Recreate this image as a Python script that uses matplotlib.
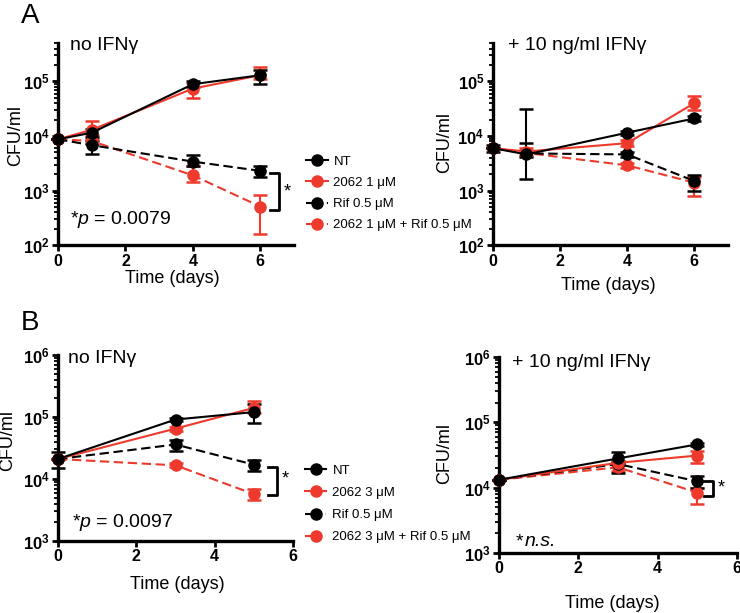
import matplotlib
matplotlib.use("Agg")
import matplotlib.pyplot as plt
from matplotlib.ticker import LogLocator, FixedLocator, NullFormatter
from matplotlib.lines import Line2D
import numpy as np

plt.rcParams['font.family'] = ['Liberation Sans', 'DejaVu Sans']
plt.rcParams['mathtext.fontset'] = 'custom'
plt.rcParams['mathtext.rm'] = 'Liberation Sans'
plt.rcParams['mathtext.it'] = 'Liberation Sans:italic'
plt.rcParams['mathtext.bf'] = 'Liberation Sans:bold'

RED = '#EE3A2C'
BLK = 'black'

# ---- data (CFU/ml): mean, lower, upper ----
# Panel A, no IFNg
days_a = [0, 1, 4, 6]
a1_nt = [8.7e3, 1.15e4, 8.9e4, 1.3e5]
a1_nt_lo = [8.7e3, 9.5e3, 8.0e4, 8.9e4]
a1_nt_hi = [8.7e3, 1.35e4, 1.0e5, 1.6e5]
a1_dr = [8.7e3, 1.3e4, 7.4e4, 1.3e5]
a1_dr_lo = [8.7e3, 1.05e4, 5.0e4, 1.1e5]
a1_dr_hi = [8.7e3, 1.9e4, 9.5e4, 1.8e5]
a1_rif = [8.7e3, 6.8e3, 3.4e3, 2.3e3]
a1_rif_lo = [8.7e3, 4.6e3, 2.8e3, 1.8e3]
a1_rif_hi = [8.7e3, 8.0e3, 4.4e3, 2.8e3]
a1_comb = [8.7e3, 8.1e3, 1.9e3, 5.1e2]
a1_comb_lo = [8.7e3, 7.0e3, 1.46e3, 1.6e2]
a1_comb_hi = [8.7e3, 9.0e3, 2.8e3, 8.3e2]

# Panel A, + 10 ng/ml IFNg
a2_nt = [6.0e3, 4.6e3, 1.15e4, 2.1e4]
a2_nt_lo = [6.0e3, 1.6e3, 1.05e4, 1.9e4]
a2_nt_hi = [6.0e3, 3.1e4, 1.25e4, 2.3e4]
a2_dr = [6.0e3, 5.2e3, 7.4e3, 4.0e4]
a2_dr_lo = [6.0e3, 4.5e3, 6.5e3, 3.0e4]
a2_dr_hi = [6.0e3, 6.0e3, 8.5e3, 5.4e4]
a2_rif = [6.0e3, 4.8e3, 4.6e3, 1.5e3]
a2_rif_lo = [5.2e3, 4.2e3, 4.2e3, 9.8e2]
a2_rif_hi = [6.8e3, 7.4e3, 5.0e3, 1.9e3]
a2_comb = [6.0e3, 4.9e3, 2.9e3, 1.4e3]
a2_comb_lo = [6.0e3, 4.3e3, 2.6e3, 8.0e2]
a2_comb_hi = [6.0e3, 5.4e3, 3.2e3, 1.8e3]

# Panel B, no IFNg
days_b = [0, 3, 5]
b1_nt = [2.1e4, 9.1e4, 1.2e5]
b1_nt_lo = [1.5e4, 8.5e4, 8.0e4]
b1_nt_hi = [2.7e4, 9.8e4, 1.6e5]
b1_dr = [2.1e4, 6.5e4, 1.4e5]
b1_dr_lo = [2.1e4, 6.0e4, 1.15e5]
b1_dr_hi = [2.1e4, 7.0e4, 1.8e5]
b1_rif = [2.1e4, 3.6e4, 1.7e4]
b1_rif_lo = [2.1e4, 2.8e4, 1.36e4]
b1_rif_hi = [2.1e4, 4.2e4, 2.0e4]
b1_comb = [2.1e4, 1.66e4, 5.7e3]
b1_comb_lo = [2.1e4, 1.55e4, 4.6e3]
b1_comb_hi = [2.1e4, 1.8e4, 6.9e3]

# Panel B, + 10 ng/ml IFNg
b2_nt = [1.32e4, 2.8e4, 4.6e4]
b2_nt_lo = [1.32e4, 2.4e4, 4.3e4]
b2_nt_hi = [1.32e4, 3.5e4, 4.9e4]
b2_dr = [1.32e4, 2.4e4, 3.1e4]
b2_dr_lo = [1.32e4, 2.2e4, 2.4e4]
b2_dr_hi = [1.32e4, 2.6e4, 3.7e4]
b2_rif = [1.32e4, 2.3e4, 1.25e4]
b2_rif_lo = [1.32e4, 1.7e4, 1.0e4]
b2_rif_hi = [1.32e4, 2.6e4, 1.5e4]
b2_comb = [1.32e4, 2.05e4, 8.4e3]
b2_comb_lo = [1.32e4, 1.8e4, 5.7e3]
b2_comb_hi = [1.32e4, 2.3e4, 1.0e4]

labels_a = ['NT', '2062 1 \u03bcM', 'Rif 0.5 \u03bcM', '2062 1 \u03bcM + Rif 0.5 \u03bcM']
labels_b = ['NT', '2062 3 \u03bcM', 'Rif 0.5 \u03bcM', '2062 3 \u03bcM + Rif 0.5 \u03bcM']
legend_styles = [(BLK, '-'), (RED, '-'), (BLK, '--'), (RED, '--')]


def series(ax, x, y, lo, hi, color, ls):
    y = np.array(y); lo = np.array(lo); hi = np.array(hi)
    err = [y - lo, hi - y]
    h = ax.errorbar(x, y, yerr=err, color=color, ls=ls, lw=1.5, marker='o',
                    ms=8, capsize=5, capthick=1.8, elinewidth=1.5,
                    dashes=(4.5, 2.2) if ls == '--' else (None, None),
                    clip_on=False, zorder=3)
    if ls == '--':
        h[2][0].set_linestyle('-')
    return h


def style(ax, xmax, xticks, ylo, yhi, decades):
    ax.set_yscale('log')
    ax.set_xlim(0, xmax)
    ax.set_ylim(ylo, yhi)
    for s in ['top', 'right']:
        ax.spines[s].set_visible(False)
    for s in ['left', 'bottom']:
        ax.spines[s].set_linewidth(2.4)
    ax.xaxis.set_major_locator(FixedLocator(xticks))
    ax.set_xticklabels([str(t) for t in xticks], fontweight='bold', fontsize=11.5)
    ax.yaxis.set_major_locator(FixedLocator([10.0 ** d for d in decades]))
    ax.set_yticklabels([r'$\mathbf{10^{%d}}$' % d for d in decades], fontsize=12)
    ax.yaxis.set_minor_locator(LogLocator(base=10, subs=np.arange(2, 10), numticks=20))
    ax.yaxis.set_minor_formatter(NullFormatter())
    ax.tick_params(axis='both', which='major', length=4.5, width=2.0, pad=1.5)
    ax.tick_params(axis='y', which='minor', length=3, width=1.3)


def bracket(ax, x0, x1, ya, yb, xs, ys):
    ax.plot([x0, x1, x1, x0], [ya, ya, yb, yb], color='black', lw=2, clip_on=False)
    ax.text(xs, ys, '*', fontsize=13, ha='left', va='center')


fig = plt.figure(figsize=(7.4, 6.13), dpi=100)
ax1 = fig.add_axes([0.0784, 0.600, 0.319, 0.3295])
ax2 = fig.add_axes([0.666, 0.600, 0.3176, 0.3295])
ax3 = fig.add_axes([0.0784, 0.1175, 0.3176, 0.3034])
ax4 = fig.add_axes([0.6743, 0.0979, 0.3216, 0.3197])

# Panel A left
series(ax1, days_a, a1_comb, a1_comb_lo, a1_comb_hi, RED, '--')
series(ax1, days_a, a1_rif, a1_rif_lo, a1_rif_hi, BLK, '--')
series(ax1, days_a, a1_dr, a1_dr_lo, a1_dr_hi, RED, '-')
series(ax1, days_a, a1_nt, a1_nt_lo, a1_nt_hi, BLK, '-')
style(ax1, 7, [0, 2, 4, 6], 1e2, 10 ** 5.7, [2, 3, 4, 5])
bracket(ax1, 6.3, 6.56, 2.1e3, 4.4e2, 6.7, 10 ** 2.98)

# Panel A right
series(ax2, days_a, a2_comb, a2_comb_lo, a2_comb_hi, RED, '--')
series(ax2, days_a, a2_rif, a2_rif_lo, a2_rif_hi, BLK, '--')
series(ax2, days_a, a2_dr, a2_dr_lo, a2_dr_hi, RED, '-')
series(ax2, days_a, a2_nt, a2_nt_lo, a2_nt_hi, BLK, '-')
style(ax2, 7, [0, 2, 4, 6], 1e2, 10 ** 5.7, [2, 3, 4, 5])

# Panel B left
series(ax3, days_b, b1_comb, b1_comb_lo, b1_comb_hi, RED, '--')
series(ax3, days_b, b1_rif, b1_rif_lo, b1_rif_hi, BLK, '--')
series(ax3, days_b, b1_dr, b1_dr_lo, b1_dr_hi, RED, '-')
series(ax3, days_b, b1_nt, b1_nt_lo, b1_nt_hi, BLK, '-')
style(ax3, 6, [0, 2, 4, 6], 1e3, 1e6, [3, 4, 5, 6])
bracket(ax3, 5.36, 5.6, 1.55e4, 5.5e3, 5.72, 10 ** 4.0)

# Panel B right
series(ax4, days_b, b2_comb, b2_comb_lo, b2_comb_hi, RED, '--')
series(ax4, days_b, b2_rif, b2_rif_lo, b2_rif_hi, BLK, '--')
series(ax4, days_b, b2_dr, b2_dr_lo, b2_dr_hi, RED, '-')
series(ax4, days_b, b2_nt, b2_nt_lo, b2_nt_hi, BLK, '-')
style(ax4, 6, [0, 2, 4, 6], 1e3, 1e6, [3, 4, 5, 6])
bracket(ax4, 5.16, 5.4, 1.25e4, 7.4e3, 5.52, 10 ** 3.99)

# axis labels
for ax, yl, xl in [(ax1, (-0.145, 0.545), (0.483, -0.124)),
                   (ax2, (-0.168, 0.51), (0.49, -0.158)),
                   (ax3, (-0.178, 0.54), (0.506, -0.188)),
                   (ax4, (-0.193, 0.51), (0.475, -0.215))]:
    ax.set_ylabel('CFU/ml', fontsize=13)
    ax.set_xlabel('Time (days)', fontsize=13)
    ax.yaxis.set_label_coords(*yl)
    ax.xaxis.set_label_coords(*xl)

# legends
for ax, labs, anchor, sp in [(ax1, labels_a, (1.03, 0.47), 0.68),
                             (ax3, labels_b, (1.03, 0.44), 0.76)]:
    handles = [Line2D([], [], color=c, ls=ls, lw=1.5, marker='o', ms=8,
                      dashes=(3, 2) if ls == '--' else (None, None))
               for c, ls in legend_styles]
    ax.legend(handles, labs, loc='upper left',
              bbox_to_anchor=anchor, frameon=False, fontsize=9.5, handlelength=1.6,
              handletextpad=0.45, labelspacing=sp, borderaxespad=0)

# panel texts
fig.text(0.028, 0.995, 'A', fontsize=20, va='top')
fig.text(0.028, 0.495, 'B', fontsize=20, va='top')
fig.text(0.094, 0.926, 'no IFN\u03b3', fontsize=14, va='center')
fig.text(0.686, 0.926, '+ 10 ng/ml IFN\u03b3', fontsize=14, va='center')
fig.text(0.092, 0.415, 'no IFN\u03b3', fontsize=14, va='center')
fig.text(0.692, 0.408, '+ 10 ng/ml IFN\u03b3', fontsize=14, va='center')
fig.text(0.095, 0.642, '*$\\it{p}$ = 0.0079', fontsize=14, va='center')
fig.text(0.097, 0.148, '*$\\it{p}$ = 0.0097', fontsize=14, va='center')
fig.text(0.697, 0.116, '*', fontsize=14, va='center')
fig.text(0.709, 0.116, 'n.s.', fontsize=14, va='center', fontstyle='italic')

fig.savefig('out.png', dpi=100)
